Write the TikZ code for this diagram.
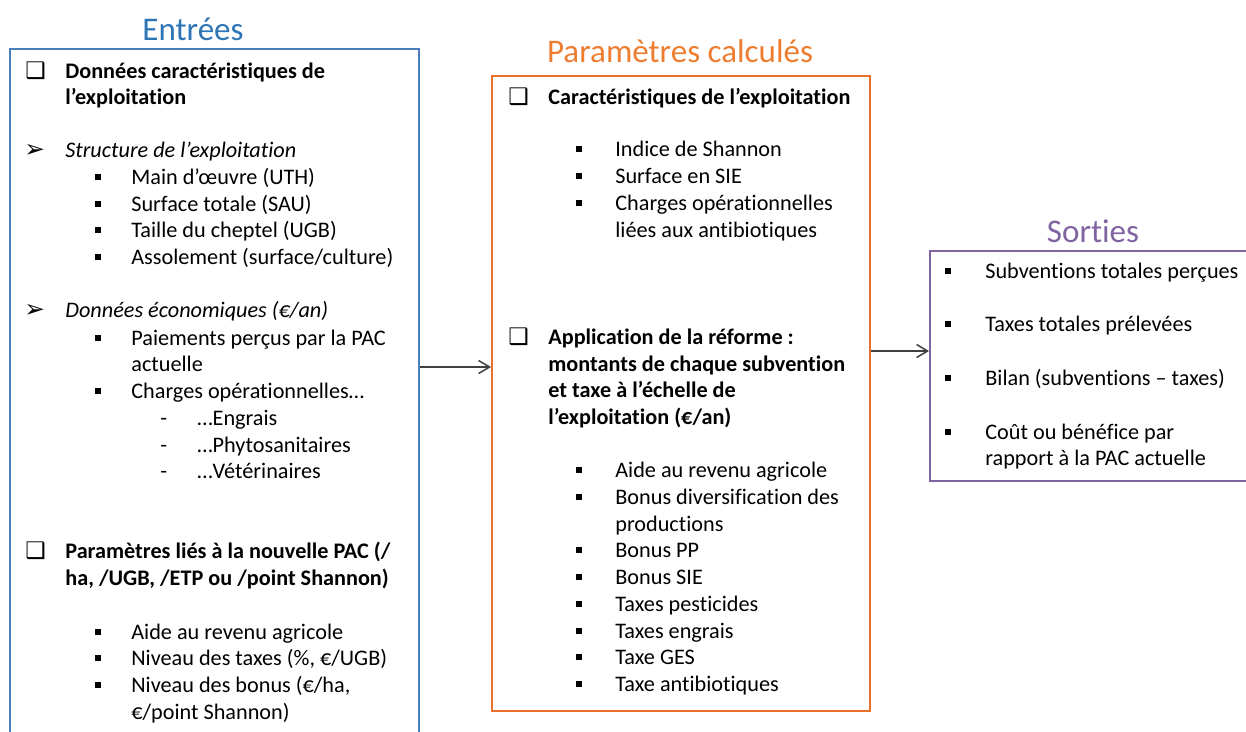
\documentclass[tikz,border=0pt]{standalone}
\usepackage{fontspec}
\setmainfont{Carlito}[Ligatures={NoCommon}]
\newfontfamily\symb{DejaVu Sans}
\usetikzlibrary{arrows.meta}
\definecolor{bleuE}{HTML}{4A7EBB}
\definecolor{bleuT}{HTML}{2E75B6}
\definecolor{orangeP}{HTML}{E8702A}
\definecolor{orangeT}{HTML}{ED7D31}
\definecolor{violetS}{HTML}{8064A2}
\definecolor{grisF}{HTML}{404040}
\begin{document}
\begin{tikzpicture}[x=0.02cm, y=-0.02cm,
  boite/.style={draw=#1, line width=0.04cm, inner sep=0},
  titre/.style={anchor=base, inner sep=0, font=\fontsize{18.8}{22}\selectfont},
  txt/.style={anchor=base west, inner sep=0, font=\fontsize{12.65}{15}\selectfont},
  gras/.style={txt, font=\fontsize{12.65}{15}\selectfont\bfseries},
  ital/.style={txt, font=\fontsize{12.65}{15}\selectfont\itshape},
  case/.style={anchor=base west, inner sep=0, font=\fontsize{13}{15}\selectfont\symb},
  pointe/.style={anchor=base west, inner sep=0, font=\fontsize{14}{15}\selectfont\symb\bfseries},
  puce/.style={fill=black, inner sep=0, minimum size=0.11cm},
  fleche/.style={draw=grisF, line width=0.03cm, -{Straight Barb[length=0.22cm, width=0.26cm]}}]
\useasboundingbox (0,0) rectangle (1246,731);
\clip (0,0) rectangle (1246,731);
% cadres
\node[boite=bleuE, minimum width=8.18cm, minimum height=13.92cm] (entrees) at (214.5, 397) {};
\node[boite=orangeP, minimum width=7.56cm, minimum height=12.7cm] (calcul) at (681, 393.5) {};
\node[boite=violetS, minimum width=6.6cm, minimum height=4.6cm] (sorties) at (1095, 366) {};
% titres
\node[titre, text=bleuT] (tEntrees) at (193, 40) {Entrées};
\node[titre, text=orangeT] (tCalcul) at (680, 62) {Paramètres calculés};
\node[titre, text=violetS] (tSorties) at (1093, 242) {Sorties};
% entrees
\node[case] (c1) at (25, 78) {❑};
\node[gras] (e1) at (65, 78) {Données caractéristiques de};
\node[gras] (e2) at (65, 104) {l’exploitation};
\node[pointe] (f1) at (24, 157) {➢};
\node[ital] (e3) at (65, 157) {Structure de l’exploitation};
\node[txt] (e4) at (131, 184) {Main d’œuvre (UTH)};
\node[txt] (e5) at (131, 211) {Surface totale (SAU)};
\node[txt] (e6) at (131, 237) {Taille du cheptel (UGB)};
\node[txt] (e7) at (131, 264) {Assolement (surface/culture)};
\node[pointe] (f2) at (24, 317) {➢};
\node[ital] (e8) at (65, 317) {Données économiques (€/an)};
\node[txt] (e9) at (131, 345) {Paiements perçus par la PAC};
\node[txt] (e10) at (131, 371) {actuelle};
\node[txt] (e11) at (131, 398) {Charges opérationnelles…};
\node[txt] (d1) at (160, 425) {-};
\node[txt] (d2) at (160, 452) {-};
\node[txt] (d3) at (160, 478) {-};
\node[txt] (e12) at (197, 425) {…Engrais};
\node[txt] (e13) at (197, 452) {…Phytosanitaires};
\node[txt] (e14) at (197, 478) {…Vétérinaires};
\node[case] (c2) at (25, 558) {❑};
\node[gras] (e15) at (65, 558) {Paramètres liés à la nouvelle PAC (/};
\node[gras] (e16) at (65, 585) {ha, /UGB, /ETP ou /point Shannon)};
\node[txt] (e17) at (131, 639) {Aide au revenu agricole};
\node[txt] (e18) at (131, 665) {Niveau des taxes (\%, €/UGB)};
\node[txt] (e19) at (131, 692) {Niveau des bonus (€/ha,};
\node[txt] (e20) at (131, 719) {€/point Shannon)};
\foreach \y [count=\i] in {177, 204, 230, 257, 338, 391, 632, 658, 685}
  \node[puce] (pe\i) at (98, \y) {};
% parametres calcules
\node[case] (c3) at (508, 104) {❑};
\node[gras] (m1) at (548, 104) {Caractéristiques de l’exploitation};
\node[txt] (m2) at (615, 156) {Indice de Shannon};
\node[txt] (m3) at (615, 183) {Surface en SIE};
\node[txt] (m4) at (615, 210) {Charges opérationnelles};
\node[txt] (m5) at (615, 237) {liées aux antibiotiques};
\node[case] (c4) at (508, 344) {❑};
\node[gras] (m6) at (548, 344) {Application de la réforme :};
\node[gras] (m7) at (548, 371) {montants de chaque subvention};
\node[gras] (m8) at (548, 397) {et taxe à l’échelle de};
\node[gras] (m9) at (548, 424) {l’exploitation (€/an)};
\node[txt] (m10) at (615, 477) {Aide au revenu agricole};
\node[txt] (m11) at (615, 504) {Bonus diversification des};
\node[txt] (m12) at (615, 531) {productions};
\node[txt] (m13) at (615, 557) {Bonus PP};
\node[txt] (m14) at (615, 584) {Bonus SIE};
\node[txt] (m15) at (615, 611) {Taxes pesticides};
\node[txt] (m16) at (615, 638) {Taxes engrais};
\node[txt] (m17) at (615, 664) {Taxe GES};
\node[txt] (m18) at (615, 691) {Taxe antibiotiques};
\foreach \y [count=\i] in {149, 176, 203, 470, 497, 550, 577, 604, 631, 657, 684}
  \node[puce] (pm\i) at (579, \y) {};
% sorties
\node[txt] (s1) at (985, 278) {Subventions totales perçues};
\node[txt] (s2) at (985, 331) {Taxes totales prélevées};
\node[txt] (s3) at (985, 385) {Bilan (subventions – taxes)};
\node[txt] (s4) at (985, 439) {Coût ou bénéfice par};
\node[txt] (s5) at (985, 465) {rapport à la PAC actuelle};
\foreach \y [count=\i] in {271, 324, 378, 432}
  \node[puce] (ps\i) at (948, \y) {};
% fleches
\draw[fleche] (entrees.east |- 0,367) -- (calcul.west |- 0,367);
\draw[fleche] (calcul.east |- 0,351) -- (sorties.west |- 0,351);
\end{tikzpicture}
\end{document}
